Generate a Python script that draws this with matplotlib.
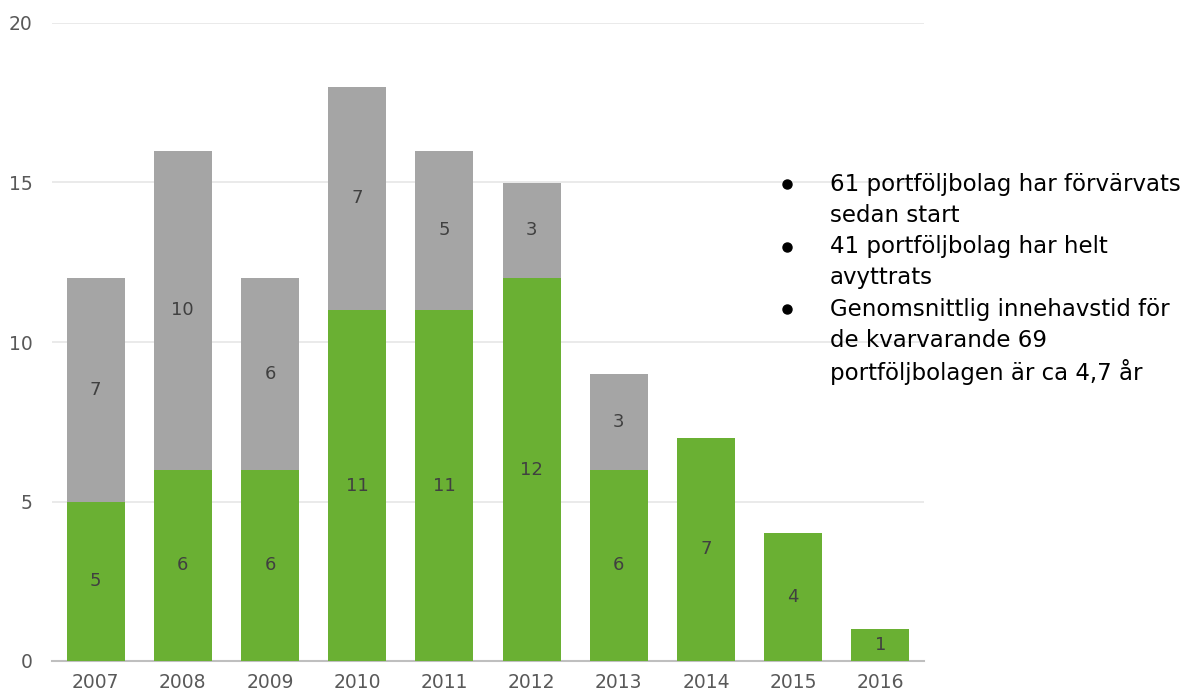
import matplotlib
matplotlib.use("Agg")
import matplotlib.pyplot as plt
import numpy as np

years = ["2007", "2008", "2009", "2010", "2011", "2012", "2013", "2014", "2015", "2016"]
held = [5, 6, 6, 11, 11, 12, 6, 7, 4, 1]
exited = [7, 10, 6, 7, 5, 3, 3, 0, 0, 0]
yticks = [0, 5, 10, 15, 20]
bullets = [
    ["61 portföljbolag har förvärvats", "sedan start"],
    ["41 portföljbolag har helt", "avyttrats"],
    ["Genomsnittlig innehavstid för", "de kvarvarande 69", "portföljbolagen är ca 4,7 år"],
]

green = "#6AB033"
gray = "#A5A5A5"
W, H = 1203, 695
fig = plt.figure(figsize=(W / 100, H / 100), dpi=100)
ax = fig.add_axes([52 / W, 34 / H, (924 - 52) / W, (661 - 23) / H])

x = np.arange(len(years))
bw = 0.665
ax.bar(x, held, width=bw, color=green, zorder=3)
ax.bar(x, exited, width=bw, bottom=held, color=gray, zorder=3)

for i in range(len(years)):
    if held[i] > 0:
        ax.text(x[i], held[i] / 2, str(held[i]), ha="center", va="center",
                fontsize=13, color="#404040", zorder=4)
    if exited[i] > 0:
        ax.text(x[i], held[i] + exited[i] / 2, str(exited[i]), ha="center", va="center",
                fontsize=13, color="#404040", zorder=4)

ax.set_xlim(-0.5, len(years) - 0.5)
ax.set_ylim(0, 20)
ax.set_yticks(yticks)
ax.set_xticks(x)
ax.set_xticklabels(years)
ax.grid(axis="y", color="#E6E6E6", linewidth=1.2, zorder=0)
for s in ["top", "right", "left"]:
    ax.spines[s].set_visible(False)
ax.spines["bottom"].set_color("#BFBFBF")
ax.spines["bottom"].set_linewidth(1.5)
ax.tick_params(axis="both", length=0, labelsize=13.5, labelcolor="#595959")
ax.tick_params(axis="y", pad=14)
ax.tick_params(axis="x", pad=9)

# bullet text
y0 = 184
step = 31.3
line = 0
for group in bullets:
    fig.lines.append(plt.Line2D([787 / W], [1 - (y0 + line * step) / H], marker="o",
                                markersize=6.5, color="black", transform=fig.transFigure))
    for t in group:
        fig.text(830 / W, 1 - (y0 + line * step) / H, t, fontsize=16.5, color="black",
                 ha="left", va="center")
        line += 1

fig.savefig("out.png", dpi=100)
